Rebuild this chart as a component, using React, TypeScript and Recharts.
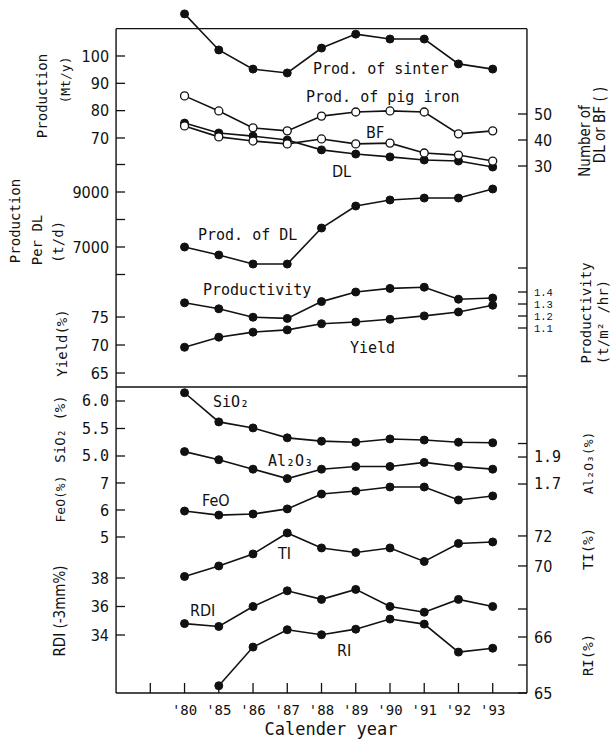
import { LineChart, Line, XAxis, YAxis, ReferenceLine } from "recharts"

// calendar years, placed on slots 2..11 of a 0..12 axis (slot 1 carries a bare tick)
const years = ["'80", "'85", "'86", "'87", "'88", "'89", "'90", "'91", "'92", "'93"]

// Mt/y
const sinter = [115.4, 102.2, 95.2, 93.8, 102.9, 108.0, 106.2, 106.2, 97.1, 95.2]
const pigIron = [85.4, 79.9, 73.7, 72.6, 78.0, 79.5, 79.9, 79.5, 71.5, 72.6]
// number of machines
const bfCount = [45.4, 41.2, 39.6, 38.5, 40.4, 38.5, 38.8, 35.0, 34.2, 31.9]
const dlCount = [46.5, 42.7, 41.5, 40.0, 36.2, 34.6, 33.5, 32.3, 31.9, 29.6]
// t/d per DL
const prodDL = [7000, 6710, 6380, 6380, 7690, 8490, 8710, 8780, 8780, 9110]
// t/m2/hr
const productivity = [1.31, 1.26, 1.19, 1.18, 1.32, 1.4, 1.43, 1.44, 1.34, 1.35]
const yieldPct = [69.6, 71.4, 72.3, 72.7, 73.8, 74.1, 74.6, 75.2, 75.9, 77.1]
const sio2 = [6.15, 5.62, 5.51, 5.33, 5.27, 5.25, 5.31, 5.29, 5.25, 5.24]
const al2o3 = [1.94, 1.88, 1.81, 1.74, 1.81, 1.83, 1.83, 1.86, 1.83, 1.81]
const feo = [5.96, 5.81, 5.85, 6.04, 6.59, 6.7, 6.85, 6.85, 6.37, 6.52]
const ti = [69.3, 70.0, 70.8, 72.2, 71.2, 70.9, 71.2, 70.3, 71.5, 71.6]
const rdi = [34.8, 34.6, 36.0, 37.1, 36.5, 37.2, 36.0, 35.6, 36.5, 36.0]
const ri = [null, 65.13, 65.82, 66.13, 66.04, 66.14, 66.32, 66.23, 65.73, 65.8]

const data = years.map((year, i) => ({
  x: i + 2,
  year,
  sinter: sinter[i],
  pigIron: pigIron[i],
  bf: bfCount[i],
  dl: dlCount[i],
  prodDL: prodDL[i],
  productivity: productivity[i],
  yieldPct: yieldPct[i],
  sio2: sio2[i],
  al2o3: al2o3[i],
  feo: feo[i],
  ti: ti[i],
  rdi: rdi[i],
  ri: ri[i],
}))

const INK = "#111"
const SANS = "'DejaVu Sans Condensed', 'Liberation Sans Narrow', 'DejaVu Sans', sans-serif"
const MONO = "'DejaVu Sans Mono', 'Liberation Mono', monospace"
const SERIFMONO = "'Liberation Mono', 'DejaVu Sans Mono', monospace"

type AxisDef = {
  id: string
  side: "left" | "right"
  domain: [number, number]
  ticks: number[]
  labelled: number[]
  decimals: number
  font: string
  size: number
}

// each stacked panel has its own scale; domains stretch over the whole plot height
const axes: AxisDef[] = [
  { id: "prod", side: "left", domain: [-133.1, 117.56], ticks: [100, 90, 80, 70], labelled: [100, 90, 80, 70], decimals: 0, font: SANS, size: 16 },
  { id: "perDL", side: "left", domain: [-9218, 15691], ticks: [10000, 9000, 8000, 7000, 6000], labelled: [9000, 7000], decimals: 0, font: SANS, size: 16 },
  { id: "yield", side: "left", domain: [7.86, 130.18], ticks: [75, 70, 65], labelled: [75, 70, 65], decimals: 0, font: SANS, size: 16 },
  { id: "sio2", side: "left", domain: [0.691, 13.145], ticks: [6, 5.5, 5], labelled: [6, 5.5, 5], decimals: 1, font: MONO, size: 15 },
  { id: "feo", side: "left", domain: [-0.778, 24.59], ticks: [7, 6, 5], labelled: [7, 6, 5], decimals: 0, font: SANS, size: 16 },
  { id: "rdi", side: "left", domain: [29.93, 78.0], ticks: [38, 36, 34], labelled: [38, 36, 34], decimals: 0, font: SANS, size: 16 },
  { id: "count", side: "right", domain: [-172.7, 90.77], ticks: [50, 40, 30], labelled: [50, 40, 30], decimals: 0, font: SANS, size: 16 },
  { id: "prodty", side: "right", domain: [-1.942, 3.767], ticks: [1.6, 1.4, 1.3, 1.2, 1.1, 0.7], labelled: [1.4, 1.3, 1.2, 1.1], decimals: 1, font: SERIFMONO, size: 10.5 },
  { id: "al2o3", side: "right", domain: [0.152, 5.226], ticks: [2.0, 1.9, 1.7], labelled: [1.9, 1.7], decimals: 1, font: MONO, size: 15 },
  { id: "ti", side: "right", domain: [61.53, 107.2], ticks: [72, 70], labelled: [72, 70], decimals: 0, font: SANS, size: 16 },
  { id: "ri", side: "right", domain: [65, 77.232], ticks: [66.5, 66, 65.5, 65], labelled: [66, 65], decimals: 0, font: SANS, size: 16 },
]

function yTick(a: AxisDef) {
  return (props: any) => {
    const { x, y, payload } = props
    const v = payload.value
    const dir = a.side === "left" ? 1 : -1
    return (
      <g>
        <line x1={x} x2={x + dir * 9} y1={y} y2={y} stroke={INK} strokeWidth={1.3} />
        {a.labelled.includes(v) && (
          <text
            x={x - dir * 7}
            y={y}
            dy="0.36em"
            textAnchor={a.side === "left" ? "end" : "start"}
            fontFamily={a.font}
            fontSize={a.size}
            fill={INK}
          >
            {v.toFixed(a.decimals)}
          </text>
        )}
      </g>
    )
  }
}

function xTick(props: any) {
  const { x, y, payload } = props
  const label = years[payload.value - 2]
  return (
    <g>
      <line x1={x} x2={x} y1={y} y2={y - 10} stroke={INK} strokeWidth={1.3} />
      {label && (
        <text x={x} y={y + 17} dy="0.36em" textAnchor="middle" fontFamily={MONO} fontSize={14} fill={INK}>
          {label}
        </text>
      )}
    </g>
  )
}

const filledDot = { r: 4, fill: INK, stroke: INK, strokeWidth: 1 }
const openDot = { r: 4, fill: "#fff", stroke: INK, strokeWidth: 1.3 }

const series: { key: string; axis: string; open?: boolean }[] = [
  { key: "sinter", axis: "prod" },
  { key: "pigIron", axis: "prod", open: true },
  { key: "dl", axis: "count" },
  { key: "bf", axis: "count", open: true },
  { key: "prodDL", axis: "perDL" },
  { key: "productivity", axis: "prodty" },
  { key: "yieldPct", axis: "yield" },
  { key: "sio2", axis: "sio2" },
  { key: "al2o3", axis: "al2o3" },
  { key: "feo", axis: "feo" },
  { key: "ti", axis: "ti" },
  { key: "rdi", axis: "rdi" },
  { key: "ri", axis: "ri" },
]

// rotated axis titles: [text, cx, cy, font, size]
const titles: [string, number, number, string, number][] = [
  ["Production", 42, 96, MONO, 14],
  ["(Mt/y)", 65, 80, MONO, 13],
  ["Production", 15, 221, MONO, 14],
  ["Per DL", 37, 240, MONO, 14],
  ["(t/d)", 58, 242, MONO, 14],
  ["Yield(%)", 62, 343, MONO, 14],
  ["SiO\u2082 (%)", 60, 429, MONO, 14],
  ["FeO(%)", 60, 499, MONO, 13],
  ["RDI (-3mm%)", 60, 611, SANS, 15],
  ["Number of", 585, 141, SANS, 15],
  ["DL or BF (   )", 600, 125, SANS, 15],
  ["Productivity", 586, 313, MONO, 14],
  ["(t/m\u00b2 /hr)", 603, 322, MONO, 14],
  ["Al\u2082O\u2083(%)", 588, 463, MONO, 13],
  ["TI(%)", 588, 549, MONO, 14],
  ["RI(%)", 588, 655, MONO, 14],
]

// in-plot series names: [text, left x, cy, font, size]
const names: [string, number, number, string, number][] = [
  ["Prod. of sinter", 313, 69, MONO, 15],
  ["Prod. of pig iron", 306, 97, MONO, 15],
  ["BF", 366, 132, SANS, 16],
  ["DL", 332, 171, SANS, 16],
  ["Prod. of DL", 198, 235, MONO, 15],
  ["Productivity", 203, 290, MONO, 15],
  ["Yield", 350, 348, MONO, 15],
  ["SiO\u2082", 213, 402, MONO, 15],
  ["Al\u2082O\u2083", 268, 461, MONO, 15],
  ["FeO", 202, 500, SANS, 16],
  ["TI", 278, 553, SANS, 16],
  ["RDI", 190, 610, SANS, 16],
  ["RI", 337, 650, SANS, 16],
]

export default function App() {
  return (
    <div style={{ position: "absolute", left: 0, top: 0, width: 610, height: 740, background: "#fff" }}>
      <LineChart width={610} height={740} data={data} margin={{ top: 8, right: 83, bottom: 17, left: 116 }}>
        <XAxis
          type="number"
          dataKey="x"
          domain={[0, 12]}
          allowDataOverflow
          ticks={[1, 2, 3, 4, 5, 6, 7, 8, 9, 10, 11]}
          interval={0}
          height={30}
          tickSize={0}
          tickMargin={0}
          tickLine={false}
          tick={xTick}
          axisLine={{ stroke: INK, strokeWidth: 1.4 }}
        />
        {axes.map((a) => (
          <YAxis
            key={a.id}
            yAxisId={a.id}
            orientation={a.side}
            type="number"
            width={0.01}
            domain={a.domain}
            allowDataOverflow
            ticks={a.ticks}
            interval={0}
            tickSize={0}
            tickMargin={0}
            tickLine={false}
            axisLine={false}
            tick={yTick(a)}
          />
        ))}
        {/* frame: top border, panel divider, side rules */}
        <ReferenceLine yAxisId="prod" y={110} stroke={INK} strokeWidth={1.4} />
        <ReferenceLine yAxisId="yield" y={62.5} stroke={INK} strokeWidth={1.4} />
        <ReferenceLine yAxisId="prod" segment={[{ x: 0, y: 110 }, { x: 0, y: -133.1 }]} stroke={INK} strokeWidth={1.4} />
        <ReferenceLine yAxisId="prod" segment={[{ x: 12, y: 110 }, { x: 12, y: -133.1 }]} stroke={INK} strokeWidth={1.4} />
        {series.map((s) => (
          <Line
            key={s.key}
            yAxisId={s.axis}
            dataKey={s.key}
            type="linear"
            stroke={INK}
            strokeWidth={1.6}
            dot={s.open ? openDot : filledDot}
            activeDot={false}
            isAnimationActive={false}
          />
        ))}
      </LineChart>
      <svg width={610} height={740} style={{ position: "absolute", left: 0, top: 0, pointerEvents: "none" }}>
        {titles.map(([t, cx, cy, f, s], i) => (
          <text
            key={i}
            x={cx}
            y={cy}
            transform={`rotate(-90 ${cx} ${cy})`}
            textAnchor="middle"
            dominantBaseline="central"
            fontFamily={f}
            fontSize={s}
            fill={INK}
          >
            {t}
          </text>
        ))}
        {names.map(([t, x, cy, f, s], i) => (
          <text key={i} x={x} y={cy} dominantBaseline="central" fontFamily={f} fontSize={s} fill={INK}>
            {t}
          </text>
        ))}
        <text x={331} y={729} textAnchor="middle" dominantBaseline="central" fontFamily={MONO} fontSize={17} fill={INK}>
          Calender year
        </text>
      </svg>
    </div>
  )
}
